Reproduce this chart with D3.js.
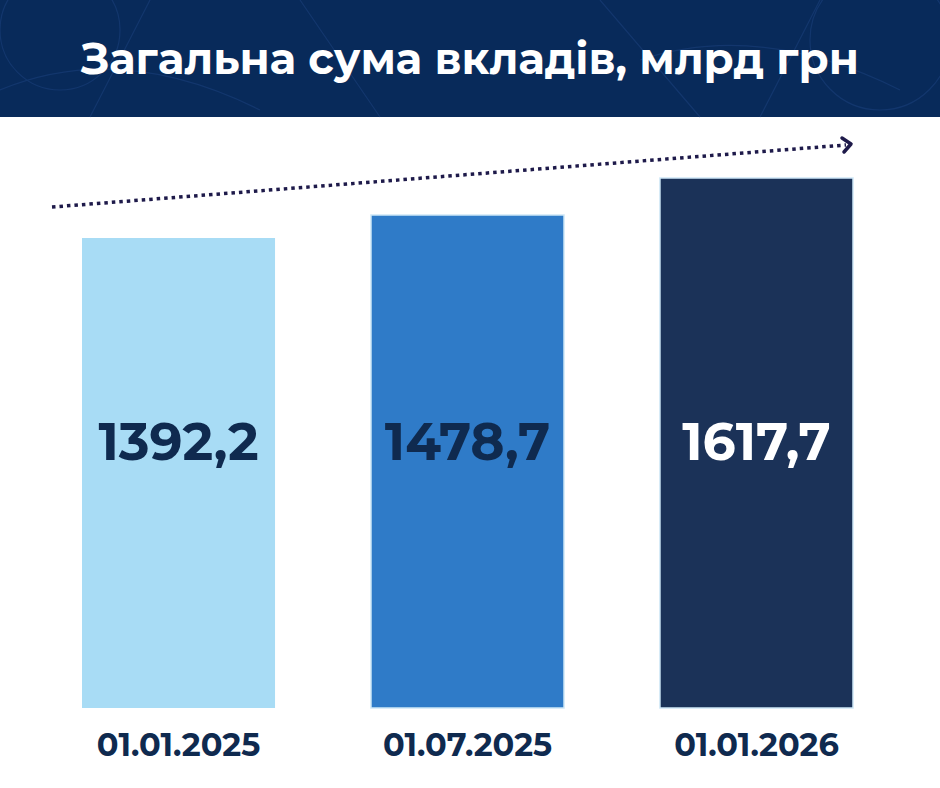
<!DOCTYPE html>
<html><head><meta charset="utf-8">
<script src="https://cdn.jsdelivr.net/npm/d3@7"></script>
<style>body{margin:0;background:#fff}svg{display:block}</style>
</head><body><svg id="c" width="940" height="788"></svg>
<script>
const title = "Загальна сума вкладів, млрд грн";
const categories = ["01.01.2025", "01.07.2025", "01.01.2026"];
const values = [1392.2, 1478.7, 1617.7];
const labels = ["1392,2", "1478,7", "1617,7"];
const colors = ["#a8dcf5", "#2f7bc8", "#1b3258"];
const textColors = ["#0f2a4f", "#0f2a4f", "#ffffff"];

const svg = d3.select("#c");
const font = "Montserrat, 'Open Sans', 'DejaVu Sans', sans-serif";
svg.append("rect").attr("width",940).attr("height",117).attr("fill","#082a5a");
const pat = svg.append("g").attr("stroke","#1a3f7a").attr("fill","none").attr("stroke-width",1.2).attr("opacity",0.6);
pat.append("path").attr("d","M600,0 L700,117 M820,0 L760,117 M640,60 Q760,20 900,90 M0,90 Q120,40 260,110 M300,0 L380,117 M150,0 L90,117");
pat.append("circle").attr("cx",880).attr("cy",40).attr("r",70);
pat.append("circle").attr("cx",60).attr("cy",30).attr("r",60);
svg.append("text").attr("x",470).attr("y",74).attr("text-anchor","middle")
  .attr("fill","#fff").attr("font-family",font).attr("font-weight",700).attr("font-size",43.5)
  .text(title);

const x = d3.scaleBand().domain(categories).range([82,853]).paddingInner(0.332).paddingOuter(0);
const y = d3.scaleLinear().domain([-374, 1617.7]).range([708,178]);

svg.selectAll(".bar").data(values).join("rect")
  .attr("x",(d,i)=>x(categories[i])).attr("width",x.bandwidth())
  .attr("y",d=>y(d)).attr("height",d=>708-y(d))
  .attr("fill",(d,i)=>colors[i]).attr("stroke","#cfe8f7").attr("stroke-width",(d,i)=>i===0?0:1.5);

svg.selectAll(".val").data(values).join("text")
  .attr("x",(d,i)=>x(categories[i])+x.bandwidth()/2).attr("y",460)
  .attr("text-anchor","middle").attr("font-family",font).attr("font-weight",700).attr("font-size",52)
  .attr("fill",(d,i)=>textColors[i]).text((d,i)=>labels[i]);

svg.selectAll(".cat").data(categories).join("text")
  .attr("x",d=>x(d)+x.bandwidth()/2).attr("y",756)
  .attr("text-anchor","middle").attr("font-family",font).attr("font-weight",700).attr("font-size",32)
  .attr("fill","#0f2a4f").text(d=>d);

svg.append("line").attr("x1",52).attr("y1",207).attr("x2",846).attr("y2",145)
  .attr("stroke","#1e1a4a").attr("stroke-width",3.5).attr("stroke-dasharray","3.5 4");
svg.append("path").attr("d","M842,138 L851,144 L844,152").attr("fill","none")
  .attr("stroke","#1e1a4a").attr("stroke-width",3.5).attr("stroke-linecap","round").attr("stroke-linejoin","round");
</script></body></html>
